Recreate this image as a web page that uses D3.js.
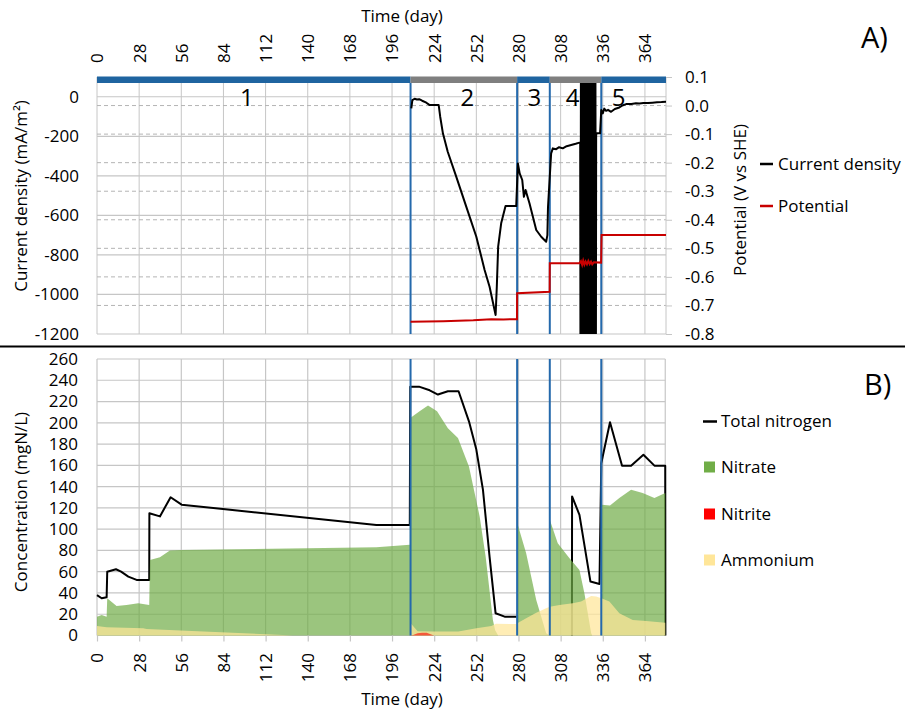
<!DOCTYPE html>
<html><head><meta charset="utf-8">
<script src="https://cdn.jsdelivr.net/npm/d3@7"></script>
<style>
body{margin:0;background:#fff}
text{font-family:"Open Sans",sans-serif;fill:#000}
</style>
</head><body>
<svg id="c" width="905" height="711"></svg>
<script>
// ---------- DATA ----------
const dayTicks = [0,28,56,84,112,140,168,196,224,252,280,308,336,364];
const dayTickLabels = ["0","28","56","84","112","140","168","196","224","252","280","308","336","364"];
const cdTicks = [0,-200,-400,-600,-800,-1000,-1200];
const cdTickLabels = ["0","-200","-400","-600","-800","-1000","-1200"];
const potTicks = [0.1,0,-0.1,-0.2,-0.3,-0.4,-0.5,-0.6,-0.7,-0.8];
const potTickLabels = ["0.1","0.0","-0.1","-0.2","-0.3","-0.4","-0.5","-0.6","-0.7","-0.8"];
const concTicks = [0,20,40,60,80,100,120,140,160,180,200,220,240,260];
const concTickLabels = ["0","20","40","60","80","100","120","140","160","180","200","220","240","260"];

const phaseNames = ["1","2","3","4","5"];
const phaseStart = [0,208.3,279.1,300.8,335.0];
const phaseEnd = [208.3,279.1,300.8,335.0,378];
const phaseLabelDay = [99.5,246,290.5,316,346.5];
const phaseBarColor = ["#1F64A0","#7F7F7F","#1F64A0","#7F7F7F","#1F64A0"];
const phaseBoundaries = [208.3,279.1,300.8,335.0];

// Current density (mA/m2) [day, value]
const currentDensity = [
 [208.8,-59],[209.5,-17],[211,-10],[212.5,-14],[214,-12],[216,-20],[218.8,-30],[221,-42],[227,-42],
 [228,-101],[229.8,-185],[233,-278],[238.7,-405],[245.3,-556],[252,-708],[257.5,-876],[260.8,-961],
 [264.8,-1104],[265.6,-961],[266.5,-758],[268.5,-640],[271.4,-553],[278.5,-553],
 [279.6,-337],[280.8,-388],[282.5,-421],[283.6,-506],[284.7,-472],[287.3,-539],[291.8,-674],
 [295.1,-708],[298.4,-733],[299.2,-700],[299.6,-560],
 [301.7,-286],[302.8,-261],[305,-265],[307,-255],[309.4,-261],[312,-250],[315,-244],[318,-238],[320.5,-232],[321.0,-232],
 [321.2,-1500],[321.5,250],[321.8,-1500],[322.1,250],[322.4,-1500],[322.7,250],[323.0,-1500],[323.3,250],
 [323.6,-1500],[323.9,250],[324.2,-1500],[324.5,250],[325.4,-1500],[325.7,250],[326.0,-1500],[326.3,250],
 [326.6,-1500],[326.9,250],[327.2,-1500],[327.5,250],[327.8,-1500],[328.1,250],[328.4,-1500],[328.7,250],
 [329.6,-1500],[329.9,250],[330.2,-1500],[330.5,250],[330.8,-1500],[331.1,250],[331.4,-1500],
 [331.6,-185],[334.2,-185],[335,-67],[336,-84],[337,-60],[338.2,-71],[339.5,-66],[341.5,-76],[344,-62],[347,-54],
 [349,-44],[351.5,-37],[355,-36],[358,-33],[360.3,-34],[363,-31],[366,-32],[369,-30],[372,-28],[375,-27],[378,-25]
];
// Potential (V vs SHE) [day, value]
const potential = [
 [208.3,-0.757],[230,-0.755],[250,-0.752],[262,-0.748],[270,-0.749],[279.0,-0.748],
 [279.1,-0.657],[300.7,-0.652],
 [300.8,-0.552],[320.5,-0.552],[321.5,-0.545],[322.3,-0.558],[323,-0.543],[323.8,-0.557],[324.6,-0.546],
 [325.5,-0.556],[326.4,-0.544],[327.3,-0.555],[328.2,-0.547],[329,-0.556],[330,-0.549],[334.9,-0.550],
 [335.2,-0.453],[378,-0.453]
];
// Total nitrogen (mgN/L) [day, value]; null = no data
const totalNitrogen = [
 [0,38],[3.1,35],[6.4,36],[6.8,60],[12.6,62.3],[16,60],[20.8,55.4],[26.3,52.3],[34.7,52.3],
 [34.8,115],[41.8,112],[48.9,130],[56.2,123],[185.6,104],[207.8,104],
 [208.1,234],[213.9,234],[221,230.6],[226.5,226.6],[233.1,229.7],[240.2,229.7],[247.1,201.4],[252,174.8],
 [256.4,137],[260.8,74],[264.8,20.9],[270.8,17.7],[278.8,17.7],
 [290,null],
 [315.5,0],[315.6,130.8],[320.5,113.5],[327.8,50.7],[333.8,48.5],
 [335,162],[340.8,200.5],[348.8,159.7],[354.8,159.7],[363,170],[370.3,159.7],[377.5,159.7],[377.6,0]
];
// Nitrate (mgN/L)
const nitrate = [
 [0,17.7],[3.1,19.3],[6.4,17.7],[6.8,35],[13,27.8],[19.6,28.7],[27.4,30.3],[34.7,28.7],
 [35.2,71.1],[41.8,73.6],[48.4,79.9],[56.2,80.5],[185.6,83],[207.8,85.3],
 [208.1,204.6],[214.3,210.9],[219.9,216.2],[225.9,210.9],[233.1,195],[239.8,185.8],[247.1,159],
 [254.2,112],[258.2,74],[263,14.6],[264.5,5],[266.5,0],[279,0],
 [279.2,105.7],[285.1,77.4],[291.8,33.4],[298.4,2],[300.6,0],
 [300.8,108.8],[306.1,86.8],[313.9,72.7],[320.5,61.7],[323.8,39.8],[328.3,2],[329,0],[335,0],
 [335.3,123],[340.8,122.3],[347,129.2],[354.8,137],[362.5,134],[370.3,129.2],[377.5,134]
];
// Nitrite (mgN/L)
const nitrite = [[208.1,0],[210,0.5],[213,2],[216,2.7],[219,2.5],[222,1],[224,0]];
// Ammonium (mgN/L)
const ammonium = [
 [0,9],[6.4,7.7],[30.7,6.8],[33,6],[55.5,4.7],[90,2.5],[123.6,0.5],[130,0],[207.8,0],
 [208.1,12],[213,4],[223,3.8],[240,3.8],[252,6.9],[262,9],[265,11],[278.8,10.8],
 [279.2,11.5],[285.1,16.2],[291.8,21.5],[298.4,25.6],[300.8,27.1],[307.2,28.7],[316,30.3],
 [321.6,31.9],[328.3,37.2],[331.6,36.6],[335,35],[340.4,31.9],[347,20.9],[355.9,14.6],[364.8,13.7],[377.5,12]
];

// ---------- SCALES ----------
const svg = d3.select("#c");
const x = d3.scaleLinear().domain([0,378]).range([97,666]);
const yCD = d3.scaleLinear().domain([-1200,100]).range([334,77]);
const yPot = d3.scaleLinear().domain([-0.8,0.1]).range([334,77]);
const yN = d3.scaleLinear().domain([0,260]).range([635.5,359]);
const grid = "#c6c6c6";
const blue = "#2469AC";

svg.append("defs").append("clipPath").attr("id","clipTop")
  .append("rect").attr("x",x(0)).attr("y",yCD(100)).attr("width",x(378)-x(0)).attr("height",yCD(-1200)-yCD(100));

// ---------- TOP PANEL ----------
const gTop = svg.append("g");
gTop.selectAll(".vg").data(dayTicks).join("line")
  .attr("x1",d=>x(d)).attr("x2",d=>x(d)).attr("y1",yCD(100)).attr("y2",yCD(-1200))
  .attr("stroke",grid).attr("stroke-width",1);
gTop.selectAll(".hg").data(cdTicks).join("line")
  .attr("x1",x(0)).attr("x2",x(378)).attr("y1",d=>yCD(d)).attr("y2",d=>yCD(d))
  .attr("stroke",grid).attr("stroke-width",1.2);
gTop.selectAll(".dg").data(potTicks.slice(1,-1)).join("line")
  .attr("x1",x(0)).attr("x2",x(378)).attr("y1",d=>yPot(d)).attr("y2",d=>yPot(d))
  .attr("stroke","#b4b4b4").attr("stroke-width",1).attr("stroke-dasharray","4,3");
gTop.append("line").attr("x1",x(378)).attr("x2",x(378)).attr("y1",yPot(0.1)).attr("y2",yPot(-0.8))
  .attr("stroke",grid);

gTop.selectAll(".pl").data(phaseBoundaries).join("line")
  .attr("x1",d=>x(d)).attr("x2",d=>x(d)).attr("y1",83).attr("y2",yCD(-1200))
  .attr("stroke",blue).attr("stroke-width",2);

gTop.selectAll(".pn").data(phaseNames).join("text")
  .attr("x",(d,i)=>x(phaseLabelDay[i])).attr("y",106).attr("text-anchor","middle")
  .attr("font-size",24).text(d=>d);

const lineCD = d3.line().x(d=>x(d[0])).y(d=>yCD(d[1]));
const linePot = d3.line().x(d=>x(d[0])).y(d=>yPot(d[1]));
gTop.append("path").datum(currentDensity).attr("d",lineCD).attr("fill","none")
  .attr("stroke","#000").attr("stroke-width",2).attr("stroke-linejoin","round").attr("clip-path","url(#clipTop)");
gTop.append("path").datum(potential).attr("d",linePot).attr("fill","none")
  .attr("stroke","#C80000").attr("stroke-width",2).attr("clip-path","url(#clipTop)");

// phase bar (drawn above the lines)
gTop.selectAll(".pb").data(phaseNames).join("rect")
  .attr("x",(d,i)=>x(phaseStart[i])).attr("width",(d,i)=>x(phaseEnd[i])-x(phaseStart[i]))
  .attr("y",76.5).attr("height",6.5).attr("fill",(d,i)=>phaseBarColor[i]);

const axL = gTop.append("g").attr("transform",`translate(${x(0)},0)`)
  .call(d3.axisLeft(yCD).tickValues(cdTicks).tickFormat((d,i)=>cdTickLabels[i]).tickSize(0).tickPadding(18));
const axR = gTop.append("g").attr("transform",`translate(${x(378)},0)`)
  .call(d3.axisRight(yPot).tickValues(potTicks).tickFormat((d,i)=>potTickLabels[i]).tickSize(6).tickPadding(13));
const axT = gTop.append("g").attr("transform",`translate(0,63)`)
  .call(d3.axisTop(x).tickValues(dayTicks).tickFormat((d,i)=>dayTickLabels[i]).tickSize(0));
[axL,axR,axT].forEach(a=>{a.select(".domain").remove();a.selectAll("text").attr("font-size",17).attr("fill","#000");});
axR.selectAll("line").attr("stroke",grid);
axT.selectAll("text").attr("transform","rotate(-90)").attr("x",0).attr("y",0).attr("dy","0.35em").attr("text-anchor","start");

svg.append("text").attr("x",402).attr("y",22).attr("text-anchor","middle").attr("font-size",17).text("Time (day)");
svg.append("text").attr("transform","translate(27,196) rotate(-90)").attr("text-anchor","middle").attr("font-size",17)
  .text("Current density (mA/m²)");
svg.append("text").attr("transform","translate(746,200) rotate(-90)").attr("text-anchor","middle").attr("font-size",17)
  .text("Potential (V vs SHE)");
svg.append("text").attr("x",861).attr("y",48).attr("font-size",29).text("A)");

const topLeg = [{name:"Current density",color:"#000",y:164},{name:"Potential",color:"#C80000",y:206}];
const tl = svg.selectAll(".tl").data(topLeg).join("g");
tl.append("line").attr("x1",760).attr("x2",773).attr("y1",d=>d.y).attr("y2",d=>d.y).attr("stroke",d=>d.color).attr("stroke-width",2.5);
tl.append("text").attr("x",778).attr("y",d=>d.y).attr("dy","0.35em").attr("font-size",17).text(d=>d.name);

svg.append("line").attr("x1",0).attr("x2",905).attr("y1",346.5).attr("y2",346.5).attr("stroke","#000").attr("stroke-width",2);

// ---------- BOTTOM PANEL ----------
const gBot = svg.append("g");
gBot.selectAll(".bvg").data(dayTicks.concat([377.5])).join("line")
  .attr("x1",d=>x(d)).attr("x2",d=>x(d)).attr("y1",yN(260)).attr("y2",yN(0))
  .attr("stroke",grid).attr("stroke-width",1.2);
gBot.selectAll(".bhg").data(concTicks).join("line")
  .attr("x1",x(0)).attr("x2",x(377.5)).attr("y1",d=>yN(d)).attr("y2",d=>yN(d))
  .attr("stroke",grid).attr("stroke-width",1.2);

const lineTN = d3.line().defined(d=>d[1]!==null).x(d=>x(d[0])).y(d=>yN(d[1]));
gBot.append("path").datum(totalNitrogen).attr("d",lineTN).attr("fill","none")
  .attr("stroke","#000").attr("stroke-width",2).attr("stroke-linejoin","round");

const area = d3.area().x(d=>x(d[0])).y0(yN(0)).y1(d=>yN(d[1]));
gBot.append("path").datum(nitrate).attr("d",area).attr("fill","#70AD47").attr("fill-opacity",0.7);
gBot.append("path").datum(ammonium).attr("d",area).attr("fill","#FFE699").attr("fill-opacity",0.72);
gBot.append("path").datum(nitrite).attr("d",area).attr("fill","#FF0000").attr("fill-opacity",0.6);

gBot.selectAll(".bpl").data(phaseBoundaries).join("line")
  .attr("x1",d=>x(d)).attr("x2",d=>x(d)).attr("y1",yN(260)).attr("y2",yN(0))
  .attr("stroke",blue).attr("stroke-width",2);

const axBL = gBot.append("g").attr("transform",`translate(${x(0)},0)`)
  .call(d3.axisLeft(yN).tickValues(concTicks).tickFormat((d,i)=>concTickLabels[i]).tickSize(0).tickPadding(19));
const axB = gBot.append("g").attr("transform",`translate(0,${yN(0)})`)
  .call(d3.axisBottom(x).tickValues(dayTicks).tickFormat((d,i)=>dayTickLabels[i]).tickSize(6));
[axBL,axB].forEach(a=>{a.select(".domain").remove();a.selectAll("text").attr("font-size",17).attr("fill","#000");});
axB.selectAll("line").attr("stroke",grid).attr("stroke-width",1.2);
axB.selectAll("text").attr("transform","rotate(-90)").attr("x",-17.5).attr("y",0).attr("dy","0.35em").attr("text-anchor","end");

svg.append("text").attr("x",402).attr("y",705).attr("text-anchor","middle").attr("font-size",17).text("Time (day)");
svg.append("text").attr("transform","translate(27,502) rotate(-90)").attr("text-anchor","middle").attr("font-size",17)
  .text("Concentration (mgN/L)");
svg.append("text").attr("x",864).attr("y",395).attr("font-size",29).text("B)");

const botLeg = [
 {name:"Total nitrogen",type:"line",color:"#000",y:421.5},
 {name:"Nitrate",type:"rect",color:"#70AD47",y:467},
 {name:"Nitrite",type:"rect",color:"#FF0000",y:514},
 {name:"Ammonium",type:"rect",color:"#FFE699",y:560}
];
const bl = svg.selectAll(".bl").data(botLeg).join("g");
bl.filter(d=>d.type==="line").append("line").attr("x1",703).attr("x2",717).attr("y1",d=>d.y).attr("y2",d=>d.y)
  .attr("stroke",d=>d.color).attr("stroke-width",2.5);
bl.filter(d=>d.type==="rect").append("rect").attr("x",704).attr("y",d=>d.y-5.5).attr("width",11).attr("height",11)
  .attr("fill",d=>d.color);
bl.append("text").attr("x",721).attr("y",d=>d.y).attr("dy","0.35em").attr("font-size",17).text(d=>d.name);
</script>
</body></html>
